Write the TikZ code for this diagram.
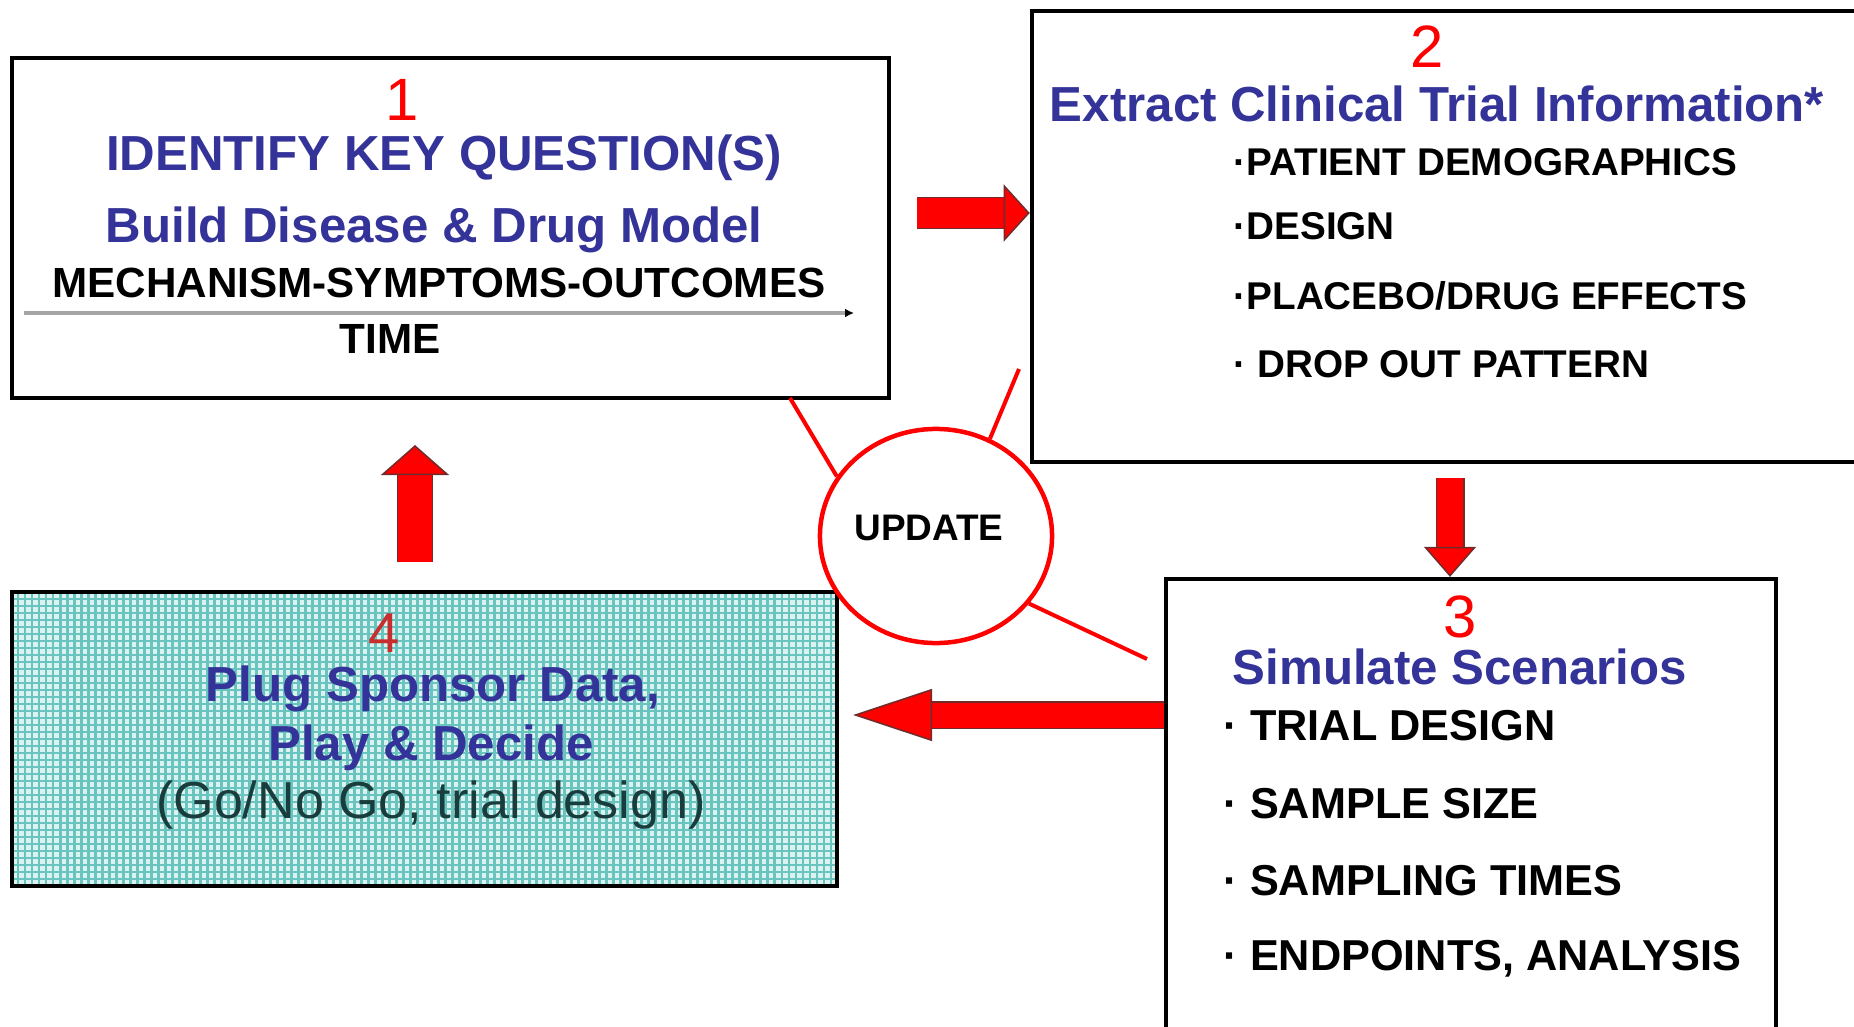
\documentclass[tikz,border=0pt]{standalone}
\usepackage{fontspec}
\setmainfont{Liberation Sans}
\usetikzlibrary{arrows.meta,shapes.geometric}
\definecolor{titleblue}{RGB}{51,51,153}
\definecolor{arrowedge}{RGB}{110,45,45}
\definecolor{gridteal}{RGB}{105,195,190}
\definecolor{gridpale}{RGB}{218,242,240}
\definecolor{goteal}{RGB}{25,60,60}
\definecolor{timegray}{RGB}{165,165,165}
\begin{document}
\begin{tikzpicture}[x=0.01cm, y=-0.01cm,
    every node/.style={inner sep=0pt},
    box/.style={draw, line width=0.04cm},
    num/.style={text=red, font=\fontsize{17}{19}\selectfont},
    title/.style={text=titleblue, font=\fontsize{14}{16}\selectfont\bfseries},
    item/.style={anchor=west, font=\fontsize{11}{13}\selectfont\bfseries},
    simitem/.style={anchor=west, font=\fontsize{12.3}{14}\selectfont\bfseries},
    updateline/.style={red, line width=0.04cm},
    arrowback/.style 2 args={arrowedge, line width=#1, shorten >=#2},
    blockarrow/.style n args={3}{red, line width=#1,
      -{Triangle[width=#2, length=#3, fill=red, color=arrowedge, line width=0.015cm]}},
    ]
    \useasboundingbox (0,0) rectangle (1854,1027);
    \clip (0,0) rectangle (1854,1027);

    \node[box, minimum width=8.77cm, minimum height=3.40cm] (box1) at (450.5,228) {};
    \node[box, minimum width=8.68cm, minimum height=4.51cm] (box2) at (1466,236.5) {};
    \node[box, minimum width=6.10cm, minimum height=5.21cm] (box3) at (1471,839.5) {};
    \node[box, minimum width=8.25cm, minimum height=2.94cm, fill=gridpale,
      path picture={\draw[gridteal, line width=0.025cm] (path picture bounding box.south west)
        grid[step=0.07cm] (path picture bounding box.north east);}] (box4) at (424.5,739) {};

    \node[num] (n1) at (402,100) {1};
    \node[title] (q1) at (444,158) {IDENTIFY KEY QUESTION(S)};
    \node[title] (b1) at (434,230) {Build Disease \& Drug Model};
    \node[font=\fontsize{12}{14}\selectfont\bfseries] (m1) at (439,283) {MECHANISM-SYMPTOMS-OUTCOMES};
    \node[font=\fontsize{12}{14}\selectfont\bfseries] (t1) at (390,339) {TIME};
    \coordinate (tl) at (24,313);
    \coordinate (tr) at (854,313);
    \draw[timegray, line width=0.045cm, -{Latex[black, length=0.09cm, width=0.09cm]}] (tl) -- (tr);

    \node[num] (n2) at (1427,47) {2};
    \node[title] (e2) at (1437,104) {Extract Clinical Trial Information*};
    \node[item] (d1) at (1233,162) {·PATIENT DEMOGRAPHICS};
    \node[item] (d2) at (1233,226) {·DESIGN};
    \node[item] (d3) at (1233,296) {·PLACEBO/DRUG EFFECTS};
    \node[item] (d4) at (1233,364) {· DROP OUT PATTERN};

    \node[num] (n3) at (1460,617) {3};
    \node[title] (s3) at (1460,667) {Simulate Scenarios};
    \node[simitem] (r1) at (1223,726) {· TRIAL DESIGN};
    \node[simitem] (r2) at (1223,804) {· SAMPLE SIZE};
    \node[simitem] (r3) at (1223,881) {· SAMPLING TIMES};
    \node[simitem] (r4) at (1223,959) {· ENDPOINTS, ANALYSIS};

    \node[num, text={rgb,255:red,200;green,45;blue,45}, font=\fontsize{16}{18}\selectfont] (n4) at (384,633) {4};
    \node[title] (p4) at (433,689) {Plug Sponsor Data,};
    \node[title] (p5) at (431,748) {Play \& Decide};
    \node[text=goteal, font=\fontsize{14.8}{16}\selectfont] (p6) at (431,805) {(Go/No Go, trial design)};

    \node[draw=red, fill=white, line width=0.045cm, ellipse,
      minimum width=2.32cm, minimum height=2.14cm] (update) at (936,536) {};
    \node[font=\fontsize{10.5}{12}\selectfont\bfseries] (upd) at (929,528) {UPDATE};
    \coordinate (u1) at (790,398);
    \coordinate (u2) at (1019,369);
    \coordinate (u3) at (1147,659);
    \draw[updateline] (u1) -- (update.149);
    \draw[updateline] (u2) -- (update.61);
    \draw[updateline] (update.-36) -- (u3);

    \coordinate (a12) at (917,213);
    \draw[arrowback={0.32cm}{0.25cm}] (a12) -- (a12 -| box2.west);
    \draw[blockarrow={0.29cm}{0.57cm}{0.26cm}] (a12) -- (a12 -| box2.west);
    \coordinate (a23) at (1450,478);
    \draw[arrowback={0.29cm}{0.29cm}] (a23) -- (a23 |- box3.north);
    \draw[blockarrow={0.26cm}{0.52cm}{0.30cm}] (a23) -- (a23 |- box3.north);
    \coordinate (a34) at (853,715);
    \draw[arrowback={0.28cm}{0.78cm}] (a34 -| box3.west) -- (a34);
    \draw[blockarrow={0.25cm}{0.52cm}{0.79cm}] (a34 -| box3.west) -- (a34);
    \coordinate (a41) at (415,562);
    \coordinate (a41e) at (415,445);
    \draw[arrowback={0.36cm}{0.29cm}] (a41) -- (a41e);
    \draw[blockarrow={0.33cm}{0.68cm}{0.30cm}] (a41) -- (a41e);
\end{tikzpicture}
\end{document}
